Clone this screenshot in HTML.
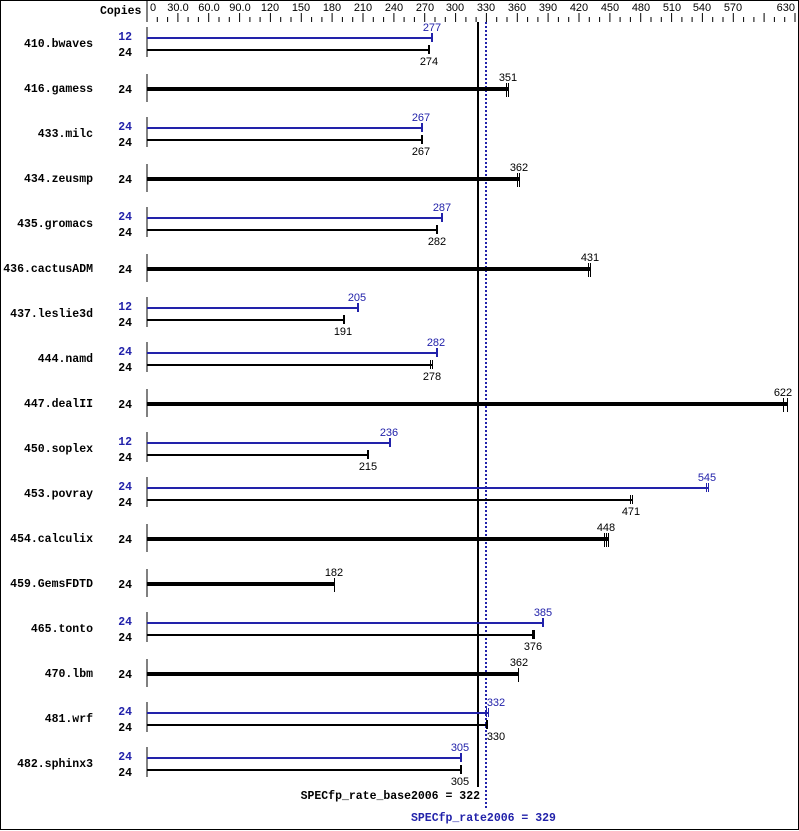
<!DOCTYPE html>
<html><head><meta charset="utf-8"><style>
html,body{margin:0;padding:0;background:#fff}
svg{display:block}
.n{font-family:"Liberation Mono",monospace;font-weight:bold;font-size:11.5px}
.t{font-family:"Liberation Sans",sans-serif;font-size:11px}
.b{fill:#2222aa}
</style></head><body>
<svg width="799" height="831" viewBox="0 0 799 831" xmlns="http://www.w3.org/2000/svg">
<rect x="0.5" y="0.5" width="798" height="829" fill="#fff" stroke="#000"/>
<text x="100" y="14" class="n">Copies</text>
<line x1="147" y1="0" x2="147" y2="22" stroke="#000"/>
<g stroke="#000">
<path d="M147 13V22M157.3 17V22M167.6 17V22M177.9 13V22M188.1 17V22M198.4 17V22M208.7 13V22M219 17V22M229.3 17V22M239.6 13V22M249.9 17V22M260.1 17V22M270.4 13V22M280.7 17V22M291 17V22M301.3 13V22M311.6 17V22M321.9 17V22M332.1 13V22M342.4 17V22M352.7 17V22M363 13V22M373.3 17V22M383.6 17V22M393.9 13V22M404.1 17V22M414.4 17V22M424.7 13V22M435 17V22M445.3 17V22M455.6 13V22M465.9 17V22M476.1 17V22M486.4 13V22M496.7 17V22M507 17V22M517.3 13V22M527.6 17V22M537.9 17V22M548.1 13V22M558.4 17V22M568.7 17V22M579 13V22M589.3 17V22M599.6 17V22M609.9 13V22M620.1 17V22M630.4 17V22M640.7 13V22M651 17V22M661.3 17V22M671.6 13V22M681.9 17V22M692.1 17V22M702.4 13V22M712.7 17V22M723 17V22M733.3 13V22M743.6 17V22M753.9 17V22M764.1 13V22M774.4 17V22M784.7 17V22M795 13V22"/>
</g>
<g class="t" text-anchor="middle">
<text x="150" y="11" text-anchor="start">0</text>
<text x="178" y="11">30.0</text><text x="209" y="11">60.0</text><text x="240" y="11">90.0</text>
<text x="270" y="11">120</text><text x="301" y="11">150</text><text x="332" y="11">180</text>
<text x="363" y="11">210</text><text x="394" y="11">240</text><text x="425" y="11">270</text>
<text x="455" y="11">300</text><text x="486" y="11">330</text><text x="517" y="11">360</text>
<text x="548" y="11">390</text><text x="579" y="11">420</text><text x="610" y="11">450</text>
<text x="641" y="11">480</text><text x="672" y="11">510</text><text x="702" y="11">540</text>
<text x="733" y="11">570</text><text x="795" y="11" text-anchor="end">630</text>
</g>

<!-- reference lines -->
<line x1="478" y1="22" x2="478" y2="787" stroke="#000" stroke-width="2"/>
<line x1="486" y1="22" x2="486" y2="808" stroke="#2222aa" stroke-width="2" stroke-dasharray="2,2"/>
<text x="480" y="799" class="n" text-anchor="end">SPECfp_rate_base2006 = 322</text>
<text x="411" y="821" class="n b">SPECfp_rate2006 = 329</text>

<g id="rows">
<!-- 410 c=43 pair -->
<text x="93" y="47" class="n" text-anchor="end">410.bwaves</text>
<text x="132" y="40" class="n b" text-anchor="end">12</text><text x="132" y="56" class="n" text-anchor="end">24</text>
<line x1="147" y1="27" x2="147" y2="57" stroke="#000"/>
<rect x="147" y="37" width="285" height="2" fill="#2222aa"/><rect x="431" y="33" width="2" height="9" fill="#2222aa"/>
<rect x="147" y="49" width="282" height="2" fill="#000"/><rect x="428" y="45" width="2" height="9" fill="#000"/>
<text x="432" y="31" class="t b" text-anchor="middle">277</text><text x="429" y="65" class="t" text-anchor="middle">274</text>

<!-- 416 c=88 single -->
<text x="93" y="92" class="n" text-anchor="end">416.gamess</text>
<text x="132" y="93" class="n" text-anchor="end">24</text>
<line x1="147" y1="74" x2="147" y2="102" stroke="#000"/>
<rect x="147" y="87" width="361" height="4" fill="#000"/><path d="M506.5 83V97M508.5 83V97" stroke="#000"/>
<text x="508" y="81" class="t" text-anchor="middle">351</text>

<!-- 433 c=133 -->
<text x="93" y="137" class="n" text-anchor="end">433.milc</text>
<text x="132" y="130" class="n b" text-anchor="end">24</text><text x="132" y="146" class="n" text-anchor="end">24</text>
<line x1="147" y1="117" x2="147" y2="147" stroke="#000"/>
<rect x="147" y="127" width="275" height="2" fill="#2222aa"/><rect x="421" y="123" width="2" height="9" fill="#2222aa"/>
<rect x="147" y="139" width="275" height="2" fill="#000"/><rect x="421" y="135" width="2" height="9" fill="#000"/>
<text x="421" y="121" class="t b" text-anchor="middle">267</text><text x="421" y="155" class="t" text-anchor="middle">267</text>

<!-- 434 c=178 -->
<text x="93" y="182" class="n" text-anchor="end">434.zeusmp</text>
<text x="132" y="183" class="n" text-anchor="end">24</text>
<line x1="147" y1="164" x2="147" y2="192" stroke="#000"/>
<rect x="147" y="177" width="372" height="4" fill="#000"/><path d="M517.5 173V187M519.5 173V187" stroke="#000"/>
<text x="519" y="171" class="t" text-anchor="middle">362</text>

<!-- 435 c=223 -->
<text x="93" y="227" class="n" text-anchor="end">435.gromacs</text>
<text x="132" y="220" class="n b" text-anchor="end">24</text><text x="132" y="236" class="n" text-anchor="end">24</text>
<line x1="147" y1="207" x2="147" y2="237" stroke="#000"/>
<rect x="147" y="217" width="295" height="2" fill="#2222aa"/><rect x="441" y="213" width="2" height="9" fill="#2222aa"/>
<rect x="147" y="229" width="290" height="2" fill="#000"/><rect x="436" y="225" width="2" height="9" fill="#000"/>
<text x="442" y="211" class="t b" text-anchor="middle">287</text><text x="437" y="245" class="t" text-anchor="middle">282</text>

<!-- 436 c=268 -->
<text x="93" y="272" class="n" text-anchor="end">436.cactusADM</text>
<text x="132" y="273" class="n" text-anchor="end">24</text>
<line x1="147" y1="254" x2="147" y2="282" stroke="#000"/>
<rect x="147" y="267" width="443" height="4" fill="#000"/><path d="M588.5 263V277M590.5 263V277" stroke="#000"/>
<text x="590" y="261" class="t" text-anchor="middle">431</text>

<!-- 437 c=313 -->
<text x="93" y="317" class="n" text-anchor="end">437.leslie3d</text>
<text x="132" y="310" class="n b" text-anchor="end">12</text><text x="132" y="326" class="n" text-anchor="end">24</text>
<line x1="147" y1="297" x2="147" y2="327" stroke="#000"/>
<rect x="147" y="307" width="211" height="2" fill="#2222aa"/><rect x="357" y="303" width="2" height="9" fill="#2222aa"/>
<rect x="147" y="319" width="197" height="2" fill="#000"/><rect x="343" y="315" width="2" height="9" fill="#000"/>
<text x="357" y="301" class="t b" text-anchor="middle">205</text><text x="343" y="335" class="t" text-anchor="middle">191</text>

<!-- 444 c=358 -->
<text x="93" y="362" class="n" text-anchor="end">444.namd</text>
<text x="132" y="355" class="n b" text-anchor="end">24</text><text x="132" y="371" class="n" text-anchor="end">24</text>
<line x1="147" y1="342" x2="147" y2="372" stroke="#000"/>
<rect x="147" y="352" width="290" height="2" fill="#2222aa"/><rect x="436" y="348" width="2" height="9" fill="#2222aa"/>
<rect x="147" y="364" width="286" height="2" fill="#000"/><path d="M430.5 360V369M432.5 360V369" stroke="#000"/>
<text x="436" y="346" class="t b" text-anchor="middle">282</text><text x="432" y="380" class="t" text-anchor="middle">278</text>

<!-- 447 c=403 -->
<text x="93" y="407" class="n" text-anchor="end">447.dealII</text>
<text x="132" y="408" class="n" text-anchor="end">24</text>
<line x1="147" y1="389" x2="147" y2="417" stroke="#000"/>
<rect x="147" y="402" width="640" height="4" fill="#000"/><path d="M783.5 398V412M787.5 398V412" stroke="#000"/>
<text x="783" y="396" class="t" text-anchor="middle">622</text>

<!-- 450 c=448 -->
<text x="93" y="452" class="n" text-anchor="end">450.soplex</text>
<text x="132" y="445" class="n b" text-anchor="end">12</text><text x="132" y="461" class="n" text-anchor="end">24</text>
<line x1="147" y1="432" x2="147" y2="462" stroke="#000"/>
<rect x="147" y="442" width="243" height="2" fill="#2222aa"/><rect x="389" y="438" width="2" height="9" fill="#2222aa"/>
<rect x="147" y="454" width="221" height="2" fill="#000"/><rect x="367" y="450" width="2" height="9" fill="#000"/>
<text x="389" y="436" class="t b" text-anchor="middle">236</text><text x="368" y="470" class="t" text-anchor="middle">215</text>

<!-- 453 c=493 -->
<text x="93" y="497" class="n" text-anchor="end">453.povray</text>
<text x="132" y="490" class="n b" text-anchor="end">24</text><text x="132" y="506" class="n" text-anchor="end">24</text>
<line x1="147" y1="477" x2="147" y2="507" stroke="#000"/>
<rect x="147" y="487" width="561" height="2" fill="#2222aa"/><path d="M706.5 483V492M708.5 483V492" stroke="#2222aa"/>
<rect x="147" y="499" width="485" height="2" fill="#000"/><path d="M630.5 495V504M632.5 495V504" stroke="#000"/>
<text x="707" y="481" class="t b" text-anchor="middle">545</text><text x="631" y="515" class="t" text-anchor="middle">471</text>

<!-- 454 c=538 -->
<text x="93" y="542" class="n" text-anchor="end">454.calculix</text>
<text x="132" y="543" class="n" text-anchor="end">24</text>
<line x1="147" y1="524" x2="147" y2="552" stroke="#000"/>
<rect x="147" y="537" width="461" height="4" fill="#000"/><path d="M604.5 533V547M606.5 533V547M608.5 533V547" stroke="#000"/>
<text x="606" y="531" class="t" text-anchor="middle">448</text>

<!-- 459 c=583 -->
<text x="93" y="587" class="n" text-anchor="end">459.GemsFDTD</text>
<text x="132" y="588" class="n" text-anchor="end">24</text>
<line x1="147" y1="569" x2="147" y2="597" stroke="#000"/>
<rect x="147" y="582" width="187" height="4" fill="#000"/><path d="M334.5 578V592" stroke="#000"/>
<text x="334" y="576" class="t" text-anchor="middle">182</text>

<!-- 465 c=628 -->
<text x="93" y="632" class="n" text-anchor="end">465.tonto</text>
<text x="132" y="625" class="n b" text-anchor="end">24</text><text x="132" y="641" class="n" text-anchor="end">24</text>
<line x1="147" y1="612" x2="147" y2="642" stroke="#000"/>
<rect x="147" y="622" width="396" height="2" fill="#2222aa"/><rect x="542" y="618" width="2" height="9" fill="#2222aa"/>
<rect x="147" y="634" width="387" height="2" fill="#000"/><rect x="532" y="630" width="3" height="9" fill="#000"/>
<text x="543" y="616" class="t b" text-anchor="middle">385</text><text x="533" y="650" class="t" text-anchor="middle">376</text>

<!-- 470 c=673 -->
<text x="93" y="677" class="n" text-anchor="end">470.lbm</text>
<text x="132" y="678" class="n" text-anchor="end">24</text>
<line x1="147" y1="659" x2="147" y2="687" stroke="#000"/>
<rect x="147" y="672" width="372" height="4" fill="#000"/><path d="M518.5 668V682" stroke="#000"/>
<text x="519" y="666" class="t" text-anchor="middle">362</text>

<!-- 481 c=718 -->
<text x="93" y="722" class="n" text-anchor="end">481.wrf</text>
<text x="132" y="715" class="n b" text-anchor="end">24</text><text x="132" y="731" class="n" text-anchor="end">24</text>
<line x1="147" y1="702" x2="147" y2="732" stroke="#000"/>
<rect x="147" y="712" width="341" height="2" fill="#2222aa"/><path d="M486.5 708V717M488.5 708V717" stroke="#2222aa"/>
<rect x="147" y="724" width="339" height="2" fill="#000"/><rect x="486" y="720" width="2" height="9" fill="#000"/>
<text x="496" y="706" class="t b" text-anchor="middle">332</text><text x="496" y="740" class="t" text-anchor="middle">330</text>

<!-- 482 c=763 -->
<text x="93" y="767" class="n" text-anchor="end">482.sphinx3</text>
<text x="132" y="760" class="n b" text-anchor="end">24</text><text x="132" y="776" class="n" text-anchor="end">24</text>
<line x1="147" y1="747" x2="147" y2="777" stroke="#000"/>
<rect x="147" y="757" width="314" height="2" fill="#2222aa"/><rect x="460" y="753" width="2" height="9" fill="#2222aa"/>
<rect x="147" y="769" width="314" height="2" fill="#000"/><rect x="460" y="765" width="2" height="9" fill="#000"/>
<text x="460" y="751" class="t b" text-anchor="middle">305</text><text x="460" y="785" class="t" text-anchor="middle">305</text>
</g>
</svg>
</body></html>
